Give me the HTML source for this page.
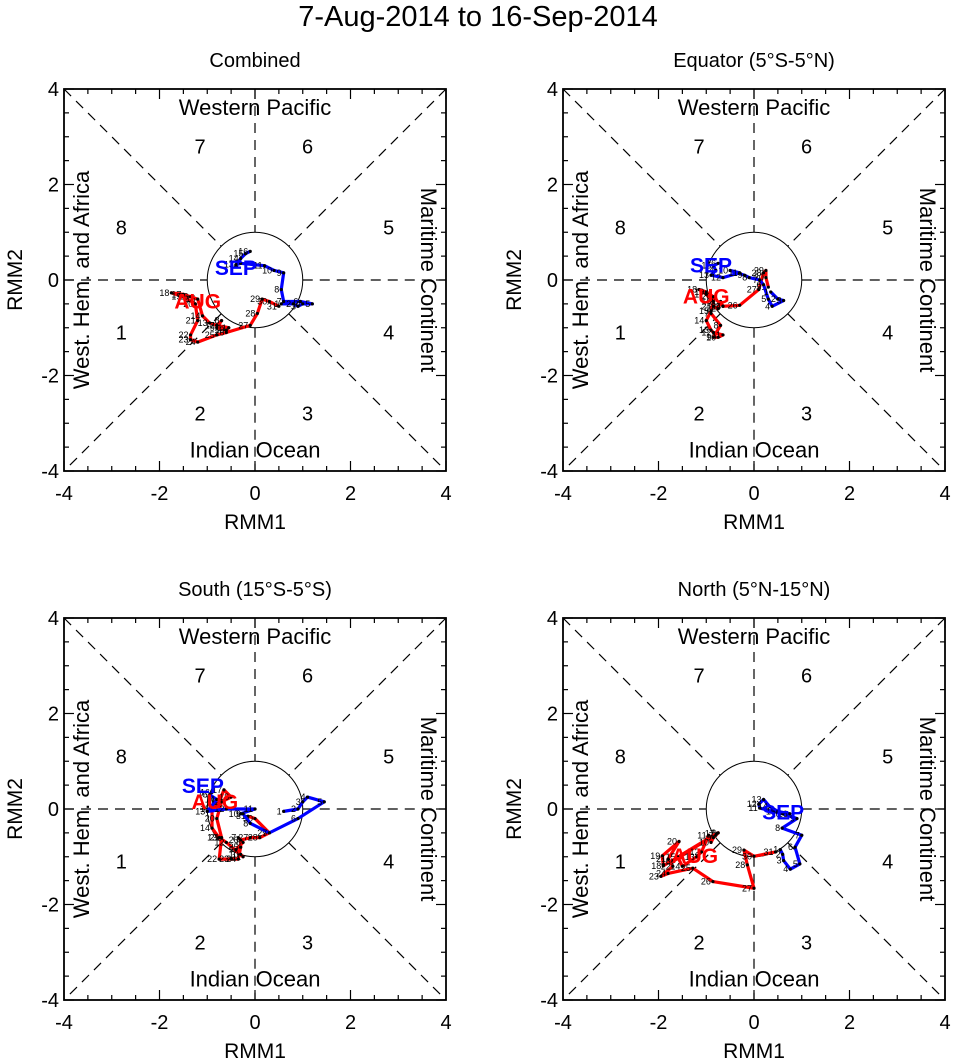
<!DOCTYPE html>
<html><head><meta charset="utf-8"><style>
body{margin:0;background:#fff;}
svg{display:block;font-family:"Liberation Sans",Arial,sans-serif;}
</style></head><body>
<svg id="chart" width="956" height="1061" viewBox="0 0 956 1061">
<text x="478" y="26" font-size="29" text-anchor="middle">7-Aug-2014 to 16-Sep-2014</text>
</svg>
<script>
// ---- data (RMM1, RMM2) per panel ----
const panelTitles = ["Combined","Equator (5°S-5°N)","South (15°S-5°S)","North (5°N-15°N)"];
const augDays = [7,8,9,10,11,12,13,14,15,16,17,18,19,20,21,22,23,24,25,26,27,28,29,30,31];
const sepDays = [1,2,3,4,5,6,7,8,9,10,11,12,13,14,15,16];
const tickValues = [-4,-2,0,2,4];
const augRMM1_p1 = [-0.8,-0.7,-0.8,-0.6,-0.55,-0.8,-0.95,-1.1,-1.2,-1.35,-1.5,-1.75,-1.5,-1.25,-1.2,-1.35,-1.35,-1.2,-0.8,-0.6,-0.1,0.05,0.15,0.3,0.5];
const augRMM2_p1 = [-0.95,-0.85,-1.0,-1.05,-1.0,-0.95,-0.9,-0.75,-0.4,-0.35,-0.3,-0.27,-0.35,-0.5,-0.85,-1.15,-1.25,-1.3,-1.15,-1.1,-0.95,-0.7,-0.4,-0.45,-0.55];
const sepRMM1_p1 = [0.55,0.8,0.9,1.0,1.2,0.95,0.6,0.55,0.6,0.4,0.2,-0.3,-0.4,-0.3,-0.2,-0.1];
const sepRMM2_p1 = [-0.5,-0.5,-0.55,-0.5,-0.5,-0.45,-0.45,-0.2,0.15,0.2,0.3,0.35,0.32,0.45,0.55,0.6];
const augRMM1_p2 = [-0.9,-0.7,-0.85,-0.75,-0.65,-0.85,-0.9,-1.0,-0.9,-0.85,-1.0,-1.15,-1.0,-0.85,-0.85,-0.75,-0.7,-0.65,-0.65,-0.3,0.1,0.2,0.25,0.25,0.3];
const augRMM2_p2 = [-0.7,-0.95,-1.2,-1.2,-1.15,-1.1,-1.05,-0.85,-0.65,-0.45,-0.3,-0.2,-0.25,-0.35,-0.55,-0.6,-0.45,-0.55,-0.55,-0.53,-0.2,0.15,0.2,0.05,-0.15];
const sepRMM1_p2 = [0.35,0.5,0.62,0.38,0.3,0.2,0.12,-0.1,-0.2,-0.5,-0.3,-0.65,-0.9,-0.8,-0.85,-0.75];
const sepRMM2_p2 = [-0.25,-0.4,-0.43,-0.55,-0.4,-0.1,0.0,0.05,0.1,0.2,0.15,0.05,0.1,0.2,0.3,0.35];
const augRMM1_p3 = [-0.35,-0.25,-0.4,-0.3,-0.25,-0.6,-0.75,-0.9,-0.9,-0.75,-0.65,-0.5,-0.7,-0.8,-0.7,-0.75,-0.5,-0.35,-0.3,-0.3,-0.1,0.1,0.3,0.0,-0.15];
const augRMM2_p3 = [-0.6,-0.7,-0.85,-0.95,-1.0,-0.7,-0.6,-0.4,0.0,0.15,0.4,0.25,0.15,-0.2,-0.6,-1.05,-1.05,-1.05,-0.8,-0.65,-0.6,-0.6,-0.5,-0.2,-0.15];
const sepRMM1_p3 = [0.6,0.9,1.0,1.1,1.45,0.9,0.3,-0.1,-0.25,-0.3,0.0,-0.6,-1.0,-0.8,-0.95,-0.9];
const sepRMM2_p3 = [-0.05,0.0,0.15,0.25,0.15,-0.2,-0.5,-0.3,-0.1,-0.1,0.0,0.0,-0.05,0.2,0.3,0.35];
const augRMM1_p4 = [-0.8,-0.75,-0.85,-0.9,-0.95,-1.1,-1.2,-1.5,-1.6,-1.7,-0.78,-1.9,-1.92,-1.57,-1.8,-1.7,-1.95,-1.8,-1.28,-0.86,0.0,-0.14,-0.21,0.0,0.45];
const augRMM2_p4 = [-0.55,-0.5,-0.6,-0.7,-0.55,-0.9,-1.0,-1.2,-1.0,-1.1,-0.51,-1.19,-0.98,-0.68,-1.05,-1.2,-1.41,-1.35,-1.24,-1.52,-1.66,-1.17,-0.86,-0.99,-0.9];
const sepRMM1_p4 = [0.55,0.6,0.62,0.76,0.96,0.86,1.0,0.59,0.9,0.6,0.12,0.1,0.2,0.33,0.5,0.75];
const sepRMM2_p4 = [-0.85,-0.95,-1.08,-1.26,-1.15,-0.8,-0.55,-0.4,-0.2,-0.1,0.02,0.1,0.2,0.05,-0.05,-0.1];
const augLabelPos = [[-1.2,-0.45],[-1.0,-0.35],[-0.84,0.15],[-1.24,-0.98]];
const sepLabelPos = [[-0.4,0.25],[-0.9,0.3],[-1.09,0.48],[0.61,-0.07]];

const panels = [
  {x0:64,y0:89,aug:[augRMM1_p1,augRMM2_p1],sep:[sepRMM1_p1,sepRMM2_p1]},
  {x0:563,y0:89,aug:[augRMM1_p2,augRMM2_p2],sep:[sepRMM1_p2,sepRMM2_p2]},
  {x0:64,y0:618,aug:[augRMM1_p3,augRMM2_p3],sep:[sepRMM1_p3,sepRMM2_p3]},
  {x0:563,y0:618,aug:[augRMM1_p4,augRMM2_p4],sep:[sepRMM1_p4,sepRMM2_p4]}
];
const NS="http://www.w3.org/2000/svg";
const svg=document.getElementById('chart');
const W=382;
function mk(tag,attrs,parent,txt){const e=document.createElementNS(NS,tag);for(const k in attrs)e.setAttribute(k,attrs[k]);if(txt!==undefined)e.textContent=txt;parent.appendChild(e);return e;}
panels.forEach((p,i)=>{
  const g=mk('g',{},svg);
  
  
  const sx=v=>p.x0+(v+4)/8*W, sy=v=>p.y0+(4-v)/8*W;
  const cx=sx(0),cy=sy(0),r=W/8;
  let t=mk('text',{x:p.x0+W/2,y:p.y0-22,'font-size':20,'text-anchor':'middle'},g,panelTitles[i]);
  
  
  const ds={stroke:'#000','stroke-width':1.2,'stroke-dasharray':'10,7',fill:'none'};
  const d=r/Math.SQRT2;
  const segs=[[sx(-4),cy,cx-r,cy],[cx+r,cy,sx(4),cy],[cx,sy(4),cx,cy-r],[cx,cy+r,cx,sy(-4)],
    [sx(-4),sy(4),cx-d,cy-d],[cx+d,cy+d,sx(4),sy(-4)],[sx(4),sy(4),cx+d,cy-d],[cx-d,cy+d,sx(-4),sy(-4)]];
  segs.forEach(s=>{const l=mk('line',Object.assign({x1:s[0],y1:s[1],x2:s[2],y2:s[3]},ds),g);
    
    });
  const c=mk('circle',{cx:cx,cy:cy,r:r,fill:'none',stroke:'#000','stroke-width':1},g);
  
  
  const fr=mk('rect',{x:p.x0,y:p.y0,width:W,height:W,fill:'none',stroke:'#000','stroke-width':1.8},g);
  
  
  for(let v=-4;v<=4.001;v+=0.5){
    const major=Math.abs(v%2)<0.01, L=major?10:5;
    const X=sx(v),Y=sy(v);
    [[X,p.y0+W,X,p.y0+W-L],[X,p.y0,X,p.y0+L],[p.x0,Y,p.x0+L,Y],[p.x0+W,Y,p.x0+W-L,Y]].forEach(s=>{
      const tl=mk('line',{x1:s[0],y1:s[1],x2:s[2],y2:s[3],stroke:'#000','stroke-width':1.2},g);
      
      });
  }
  tickValues.forEach(v=>{
    const a=mk('text',{x:sx(v),y:p.y0+W+29,'font-size':20,'text-anchor':'middle'},g,String(v));
    
    
    const b=mk('text',{x:p.x0-5,y:sy(v)+7,'font-size':20,'text-anchor':'end'},g,String(v));
    
    
  });
  const xt=mk('text',{x:p.x0+W/2,y:p.y0+W+58,'font-size':21,'text-anchor':'middle'},g,'RMM1');
  
  
  const yt=mk('text',{x:0,y:0,'font-size':21,'text-anchor':'middle',transform:`translate(${p.x0-42},${cy}) rotate(-90)`},g,'RMM2');
  
  
  const reg=[['Western Pacific',cx,sy(3.6)+1,0],['Indian Ocean',cx,sy(-3.6)+0,0],
    ['West. Hem. and Africa',sx(-3.6),cy,-90],['Maritime Continent',sx(3.6),cy,90]];
  reg.forEach(q=>{const e=mk('text',{x:0,y:0,'font-size':22,'text-anchor':'middle','dominant-baseline':'middle',transform:`translate(${q[1]},${q[2]}) rotate(${q[3]})`},g,q[0]);
    
    });
  const ph=[['7',-1.15,2.8],['6',1.1,2.8],['8',-2.8,1.1],['5',2.8,1.1],['1',-2.8,-1.1],['4',2.8,-1.1],['2',-1.15,-2.8],['3',1.1,-2.8]];
  ph.forEach(q=>{const e=mk('text',{x:sx(q[1]),y:sy(q[2])+7,'font-size':20,'text-anchor':'middle'},g,q[0]);
    
    });
  function series(xs,ys,days,color,name){
    const pts=xs.map((v,k)=>sx(v)+','+sy(ys[k])).join(' ');
    const pl=mk('polyline',{points:pts,fill:'none',stroke:color,'stroke-width':3.2,'stroke-linejoin':'round'},g);
    
    
    xs.forEach((v,k)=>{
      const dt=mk('circle',{cx:sx(v),cy:sy(ys[k]),r:1.6,fill:'#000'},g);
      
      
      const lb=mk('text',{x:sx(v)-2,y:sy(ys[k])+3,'font-size':9,'text-anchor':'end'},g,String(days[k]));
      
      
    });
  }
  series(p.aug[0],p.aug[1],augDays,'#f00','aug');
  series(p.sep[0],p.sep[1],sepDays,'#00f','sep');
  const al=mk('text',{x:sx(augLabelPos[i][0]),y:sy(augLabelPos[i][1])+7,'font-size':21,'font-weight':'bold',fill:'#f00','text-anchor':'middle'},g,'AUG');
  
  
  const sl=mk('text',{x:sx(sepLabelPos[i][0]),y:sy(sepLabelPos[i][1])+7,'font-size':21,'font-weight':'bold',fill:'#00f','text-anchor':'middle'},g,'SEP');
  
  
});
</script>
</body></html>
